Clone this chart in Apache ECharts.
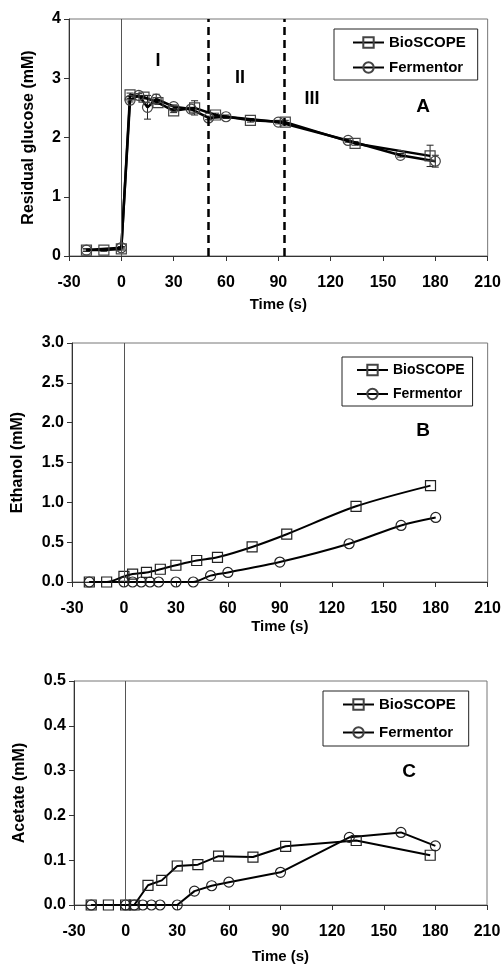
<!DOCTYPE html>
<html>
<head>
<meta charset="utf-8">
<script src="https://cdn.jsdelivr.net/npm/echarts@6/dist/echarts.min.js"></script>
<style>
  html, body { margin: 0; padding: 0; background: #fff; }
  #chart { width: 504px; height: 965px; }
</style>
</head>
<body>
<div id="chart"></div>
<script>
// ---- Sampling times (s) ----
const timeBio = [-20, -10, 0, 5, 13, 21, 30, 42, 54, 74, 94, 134, 177];
const timeFerm = [-20, 0, 5, 10, 15, 20, 30, 40, 50, 60, 90, 130, 160, 180];

// ---- Panel A: residual glucose (mM) ----
const glucoseBio = [0.10, 0.10, 0.12, 2.72, 2.68, 2.59, 2.45, 2.50, 2.38, 2.29, 2.26, 1.90, 1.69];
const glucoseBioErr = [0.02, 0.02, 0.02, 0.03, 0.03, 0.03, 0.03, 0.12, 0.03, 0.03, 0.03, 0.03, 0.18];
const glucoseFerm = [0.10, 0.14, 2.63, 2.71, 2.51, 2.65, 2.52, 2.48, 2.33, 2.35, 2.26, 1.95, 1.70, 1.60];
const glucoseFermErr = [0.02, 0.02, 0.03, 0.03, 0.20, 0.08, 0.03, 0.03, 0.03, 0.03, 0.03, 0.03, 0.03, 0.10];
const phaseBounds = [50, 93.5];

// ---- Panel B: ethanol (mM) ----
const timeBioB = [-20, -10, 0, 5, 13, 21, 30, 42, 54, 74, 94, 134, 177];
const ethanolBio = [0.00, 0.00, 0.07, 0.10, 0.12, 0.16, 0.21, 0.27, 0.31, 0.44, 0.60, 0.95, 1.21];
const timeFermB = [-20, 0, 5, 10, 15, 20, 30, 40, 50, 60, 90, 130, 160, 180];
const ethanolFerm = [0.00, 0.00, 0.00, 0.00, 0.00, 0.00, 0.00, 0.00, 0.08, 0.12, 0.25, 0.48, 0.71, 0.81];

// ---- Panel C: acetate (mM) ----
const timeBioC = [-20, -10, 0, 5, 13, 21, 30, 42, 54, 74, 93, 134, 177];
const acetateBio = [0.000, 0.000, 0.000, 0.000, 0.044, 0.055, 0.087, 0.090, 0.109, 0.107, 0.131, 0.144, 0.111];
const timeFermC = [-20, 0, 5, 10, 15, 20, 30, 40, 50, 60, 90, 130, 160, 180];
const acetateFerm = [0.000, 0.000, 0.000, 0.000, 0.000, 0.000, 0.000, 0.031, 0.043, 0.051, 0.073, 0.151, 0.162, 0.132];

// ---- Axis ticks ----
const xTicks = { min: -30, max: 210, interval: 30 };
const yTicksA = { min: 0, max: 4, interval: 1 };
const yTicksB = { min: 0, max: 3, interval: 0.5 };
const yTicksC = { min: 0, max: 0.5, interval: 0.1 };

const seriesNames = ['BioSCOPE', 'Fermentor'];
const FONT = '"Liberation Sans", Arial, sans-serif';

const pairs = (xs, ys) => xs.map((x, i) => [x, ys[i]]);

function grid(left, top, width, height) {
  return { left, top, width, height, show: true, borderColor: '#777', borderWidth: 1, backgroundColor: 'transparent' };
}

function xAxis(gridIndex, nameGap) {
  return {
    type: 'value', gridIndex, min: xTicks.min, max: xTicks.max, interval: xTicks.interval,
    name: 'Time (s)', nameLocation: 'middle', nameGap,
    nameTextStyle: { fontFamily: FONT, fontWeight: 'bold', fontSize: 15, color: '#000' },
    axisLine: { onZero: false, lineStyle: { color: '#333', width: 1 } },
    axisTick: { show: true, inside: false, length: 5, lineStyle: { color: '#333' } },
    axisLabel: { fontFamily: FONT, fontWeight: 'bold', fontSize: 16, color: '#000', margin: 19 },
    splitLine: { show: false }
  };
}

function yAxis(gridIndex, ticks, name, nameGap, decimals) {
  return {
    type: 'value', gridIndex, min: ticks.min, max: ticks.max, interval: ticks.interval,
    name, nameLocation: 'middle', nameGap, nameRotate: 90,
    nameTextStyle: { fontFamily: FONT, fontWeight: 'bold', fontSize: 16, color: '#000' },
    axisLine: { show: true, onZero: false, lineStyle: { color: '#333', width: 1 } },
    axisTick: { show: true, inside: false, length: 5, lineStyle: { color: '#333' } },
    axisLabel: {
      fontFamily: FONT, fontWeight: 'bold', fontSize: 16, color: '#000', margin: 8,
      formatter: v => v.toFixed(decimals)
    },
    splitLine: { show: false }
  };
}

function lineSeries(name, idx, data, symbol, opts) {
  return Object.assign({
    name, type: 'line', xAxisIndex: idx, yAxisIndex: idx, data,
    symbol, symbolSize: opts.symbolSize || 10,
    lineStyle: { color: '#000', width: opts.lineWidth },
    itemStyle: { color: 'rgba(255,255,255,0)', borderColor: opts.markerColor, borderWidth: 1.2 },
    emphasis: { disabled: true },
    animation: false,
    z: 3
  }, opts.extra || {});
}

function errorBars(idx, xs, ys, errs) {
  return {
    type: 'custom', xAxisIndex: idx, yAxisIndex: idx, silent: true, animation: false, z: 2,
    encode: { x: 0, y: [1, 2] },
    data: xs.map((x, i) => [x, ys[i] - errs[i], ys[i] + errs[i]]),
    renderItem(params, api) {
      const lo = api.coord([api.value(0), api.value(1)]);
      const hi = api.coord([api.value(0), api.value(2)]);
      const w = 3.5;
      const st = { stroke: '#222', lineWidth: 1 };
      return {
        type: 'group', children: [
          { type: 'line', shape: { x1: lo[0], y1: lo[1], x2: hi[0], y2: hi[1] }, style: st },
          { type: 'line', shape: { x1: lo[0] - w, y1: lo[1], x2: lo[0] + w, y2: lo[1] }, style: st },
          { type: 'line', shape: { x1: hi[0] - w, y1: hi[1], x2: hi[0] + w, y2: hi[1] }, style: st }
        ]
      };
    }
  };
}

function zeroLine(extra) {
  const data = [{ xAxis: 0, lineStyle: { color: '#555', width: 1, type: 'solid' } }].concat(extra || []);
  return { silent: true, symbol: 'none', label: { show: false }, animation: false, data };
}

function legend(left, top, padding, itemGap, fontSize) {
  return {
    data: seriesNames, orient: 'vertical', left, top, padding, itemGap,
    itemWidth: 31, itemHeight: 13, selectedMode: false,
    borderColor: '#222', borderWidth: 1, backgroundColor: '#fff',
    textStyle: { fontFamily: FONT, fontWeight: 'bold', fontSize, color: '#000' }
  };
}

function label(text, x, y, size) {
  return {
    type: 'text', x, y,
    style: { text, font: 'bold ' + size + 'px ' + FONT, fill: '#000', align: 'center', verticalAlign: 'middle' }
  };
}

const phaseLines = phaseBounds.map(x => ({ xAxis: x, lineStyle: { color: '#000', width: 2.5, type: [8, 5] } }));

const option = {
  backgroundColor: '#fff',
  animation: false,
  grid: [
    grid(69, 19, 419, 237),
    grid(72, 343, 416, 239),
    grid(74, 681, 413, 226)
  ],
  xAxis: [xAxis(0, 41), xAxis(1, 37), xAxis(2, 44)],
  yAxis: [
    yAxis(0, yTicksA, 'Residual glucose (mM)', 32, 0),
    yAxis(1, yTicksB, 'Ethanol (mM)', 46, 1),
    yAxis(2, yTicksC, 'Acetate (mM)', 46, 1)
  ],
  legend: [
    legend(334, 29, [6, 12, 5, 18], 10, 15),
    legend(342, 357, [6, 8, 5, 14], 10, 14),
    legend(323, 691, [6, 13, 6, 19], 13, 15)
  ],
  series: [
    // Panel A
    errorBars(0, timeBio, glucoseBio, glucoseBioErr),
    errorBars(0, timeFerm, glucoseFerm, glucoseFermErr),
    lineSeries('BioSCOPE', 0, pairs(timeBio, glucoseBio), 'rect',
      { lineWidth: 2.5, markerColor: '#444', extra: { markLine: zeroLine(phaseLines) } }),
    lineSeries('Fermentor', 0, pairs(timeFerm, glucoseFerm), 'circle',
      { lineWidth: 2.5, markerColor: '#444' }),
    // Panel B
    lineSeries('BioSCOPE', 1, pairs(timeBioB, ethanolBio), 'rect',
      { lineWidth: 2, markerColor: '#222', extra: { smooth: 0.3, markLine: zeroLine() } }),
    lineSeries('Fermentor', 1, pairs(timeFermB, ethanolFerm), 'circle',
      { lineWidth: 2, markerColor: '#222', extra: { smooth: 0.3 } }),
    // Panel C
    lineSeries('BioSCOPE', 2, pairs(timeBioC, acetateBio), 'rect',
      { lineWidth: 2, markerColor: '#222', extra: { markLine: zeroLine() } }),
    lineSeries('Fermentor', 2, pairs(timeFermC, acetateFerm), 'circle',
      { lineWidth: 2, markerColor: '#222' })
  ],
  graphic: [
    label('I', 158, 61, 18),
    label('II', 240, 78, 18),
    label('III', 312, 99, 18),
    label('A', 423, 107, 19),
    label('B', 423, 431, 19),
    label('C', 409, 772, 19)
  ]
};

const chart = echarts.init(document.getElementById('chart'), null, { renderer: 'canvas' });
chart.setOption(option);
</script>
</body>
</html>
